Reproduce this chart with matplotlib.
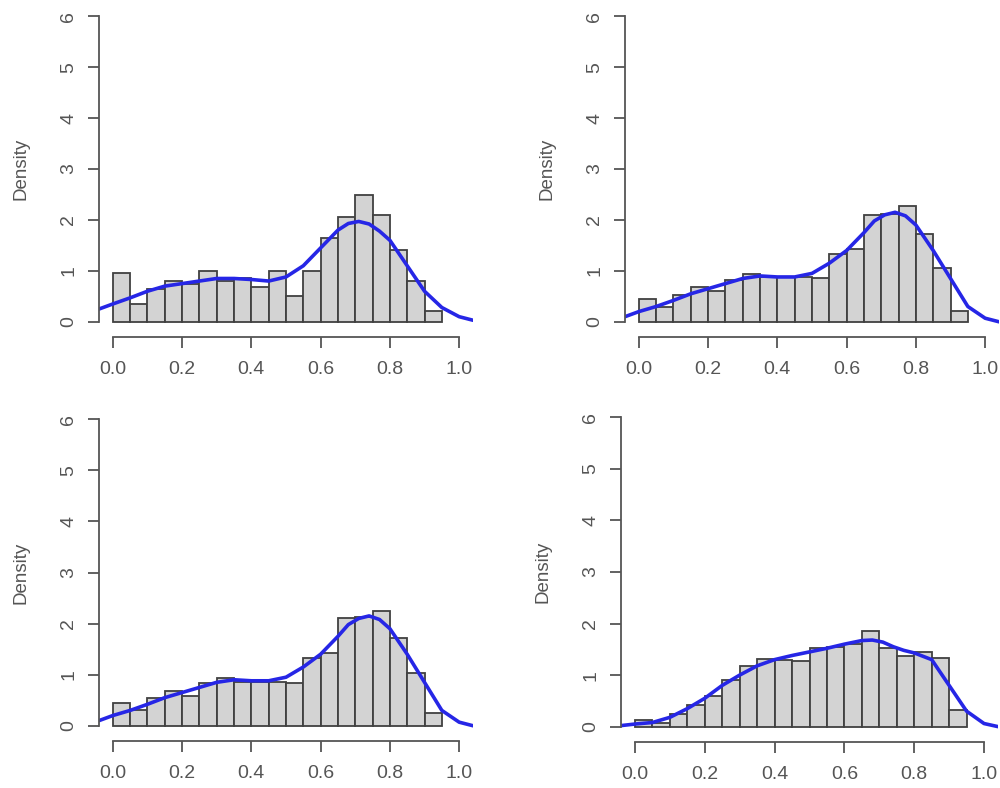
#!/usr/bin/env python3
# Four density histograms (R base-graphics look) with a kernel density curve on top

import numpy as np
import matplotlib
matplotlib.use("Agg")
import matplotlib.pyplot as plt

# bins of width 0.05 from 0.00 to 0.95
bin_edges = [0.00, 0.05, 0.10, 0.15, 0.20, 0.25, 0.30, 0.35, 0.40, 0.45,
             0.50, 0.55, 0.60, 0.65, 0.70, 0.75, 0.80, 0.85, 0.90, 0.95]

# histogram heights (density)
hist_a = [0.95, 0.35, 0.65, 0.80, 0.75, 1.00, 0.80, 0.85, 0.68, 1.00,
          0.50, 1.00, 1.65, 2.05, 2.48, 2.10, 1.40, 0.80, 0.22]
hist_b = [0.45, 0.30, 0.53, 0.68, 0.60, 0.83, 0.93, 0.87, 0.87, 0.87,
          0.85, 1.33, 1.42, 2.10, 2.12, 2.27, 1.72, 1.05, 0.22]
hist_c = [0.45, 0.31, 0.54, 0.68, 0.59, 0.83, 0.93, 0.86, 0.86, 0.86,
          0.83, 1.32, 1.42, 2.10, 2.12, 2.25, 1.71, 1.04, 0.24]
hist_d = [0.12, 0.08, 0.25, 0.42, 0.60, 0.90, 1.17, 1.32, 1.30, 1.28,
          1.53, 1.55, 1.60, 1.85, 1.52, 1.37, 1.45, 1.33, 0.32]

# density curves
curve_x = [-0.04, 0.00, 0.05, 0.10, 0.15, 0.20, 0.25, 0.30, 0.35, 0.40, 0.45,
           0.50, 0.55, 0.60, 0.65, 0.68, 0.71, 0.74, 0.77, 0.80, 0.85, 0.90,
           0.95, 1.00, 1.04]
curve_a = [0.25, 0.35, 0.47, 0.60, 0.70, 0.75, 0.80, 0.85, 0.85, 0.83, 0.80,
           0.88, 1.10, 1.45, 1.80, 1.93, 1.97, 1.92, 1.78, 1.60, 1.10, 0.60,
           0.28, 0.10, 0.03]
curve_b = [0.10, 0.20, 0.30, 0.42, 0.55, 0.65, 0.75, 0.85, 0.90, 0.88, 0.88,
           0.95, 1.15, 1.40, 1.75, 1.98, 2.10, 2.15, 2.08, 1.90, 1.40, 0.85,
           0.30, 0.07, 0.00]
curve_c = [0.10, 0.20, 0.30, 0.42, 0.55, 0.65, 0.75, 0.85, 0.90, 0.88, 0.88,
           0.95, 1.15, 1.40, 1.75, 1.98, 2.10, 2.15, 2.08, 1.90, 1.40, 0.85,
           0.30, 0.07, 0.00]
curve_d = [0.02, 0.05, 0.08, 0.18, 0.35, 0.55, 0.80, 1.00, 1.18, 1.30, 1.38,
           1.45, 1.52, 1.60, 1.67, 1.68, 1.64, 1.55, 1.48, 1.43, 1.30, 0.80,
           0.30, 0.06, 0.00]

x_ticks = [0.0, 0.2, 0.4, 0.6, 0.8, 1.0]
y_ticks = [0, 1, 2, 3, 4, 5, 6]

panels = [
    (hist_a, curve_a, [99, 4, 473, 334]),
    (hist_b, curve_b, [625, 4, 999, 334]),
    (hist_c, curve_c, [99, 407, 473, 738]),
    (hist_d, curve_d, [621, 405, 998, 739]),
]

W, H = 1000, 788
plt.rcParams['font.family'] = ['Liberation Sans', 'DejaVu Sans']
fig = plt.figure(figsize=(W / 100, H / 100), dpi=100)

axis_col = '#555555'
text_col = '#555555'

for heights, curve, (l, t, r, b) in panels:
    ax = fig.add_axes([l / W, 1 - b / H, (r - l) / W, (b - t) / H])
    ax.bar(bin_edges[:-1], heights, width=0.05, align='edge',
           color='#D3D3D3', edgecolor='#404040', linewidth=1.3)
    ax.plot(curve_x, curve, color='#2626E6', linewidth=2.6, solid_capstyle='round')

    ax.set_xlim(-0.04, 1.04)
    ax.set_ylim(-0.24, 6.24)

    for side in ['top', 'right']:
        ax.spines[side].set_visible(False)
    ax.spines['left'].set_bounds(0, 6)
    ax.spines['bottom'].set_bounds(0, 1)
    ax.spines['bottom'].set_position(('outward', 2))
    for side in ['left', 'bottom']:
        ax.spines[side].set_color(axis_col)
        ax.spines[side].set_linewidth(1.3)

    ax.set_xticks(x_ticks)
    ax.set_xticklabels([f"{v:.1f}" for v in x_ticks])
    ax.set_yticks(y_ticks)
    ax.tick_params(axis='both', length=8, width=1.3, color=axis_col,
                   labelsize=14, labelcolor=text_col)
    ax.tick_params(axis='x', pad=9.5)
    ax.tick_params(axis='y', pad=7.8, labelrotation=90)
    for lbl in ax.get_yticklabels():
        lbl.set_verticalalignment('center')

    ax.set_ylabel('Density', fontsize=13.5, color=text_col, va='center')
    ax.yaxis.set_label_coords(-78 / (r - l), 0.5)

fig.savefig('out.png', dpi=100)
